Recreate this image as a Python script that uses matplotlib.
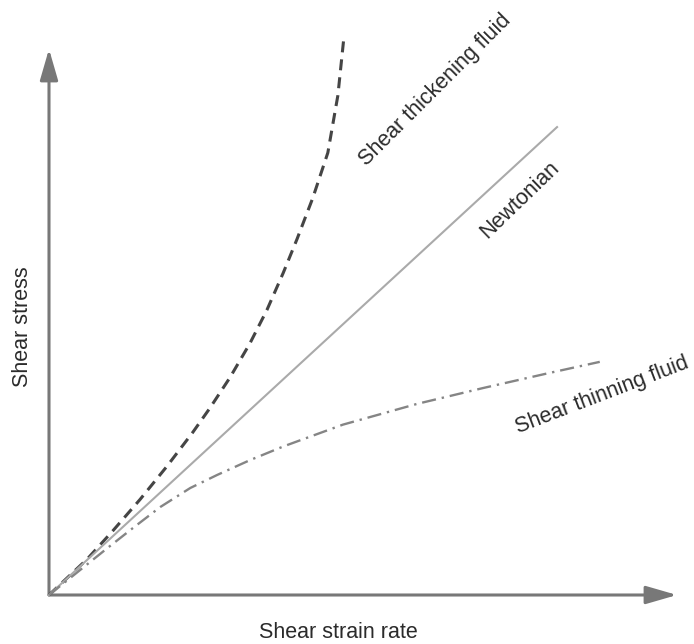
import numpy as np
import matplotlib.pyplot as plt
from matplotlib.patches import FancyArrowPatch

plt.rcParams['font.family'] = ['Liberation Sans', 'DejaVu Sans']

# values (origin = 0, axis arrow tips = 1)
thick_x = [0, 0.061, 0.102, 0.145, 0.188, 0.229, 0.256, 0.288, 0.320, 0.347,
           0.373, 0.395, 0.420, 0.444, 0.460, 0.470]
thick_y = [0, 0.066, 0.118, 0.175, 0.236, 0.298, 0.342, 0.398, 0.461, 0.522,
           0.590, 0.652, 0.727, 0.810, 0.915, 1.026]

newt_x = [0, 0.809]
newt_y = [0, 0.857]

thin_x = [0, 0.092, 0.134, 0.177, 0.225, 0.268, 0.320, 0.373, 0.468, 0.586,
          0.691, 0.798, 0.877]
thin_y = [0, 0.085, 0.123, 0.161, 0.196, 0.220, 0.247, 0.272, 0.312, 0.350,
          0.379, 0.407, 0.427]

W, H = 694, 644
fig = plt.figure(figsize=(W / 100, H / 100), dpi=100)
# origin at pixel (49, 595), arrow tips at x=677 / y=49
ax = fig.add_axes([49 / W, 1 - 595 / H, (677 - 49) / W, (595 - 49) / H])
ax.set_xlim(0, 1)
ax.set_ylim(0, 1)
ax.axis('off')

axis_col = '#787878'
for end in [(1, 0), (0, 1)]:
    arr = FancyArrowPatch((0, 0), end, arrowstyle='-|>,head_length=1.9,head_width=0.55',
                          mutation_scale=10, lw=2.2, color=axis_col,
                          shrinkA=0, shrinkB=0, clip_on=False)
    ax.add_patch(arr)

ax.plot(thick_x, thick_y, color='#454545', lw=2.2, dashes=(3.6, 2.3),
        clip_on=False, solid_capstyle='butt')
ax.plot(newt_x, newt_y, color='#aaaaaa', lw=1.5, clip_on=False)
ax.plot(thin_x, thin_y, color='#858585', lw=1.7, dashes=(6, 2.5, 1, 2.5),
        clip_on=False)

tcol = '#2b2b2b'
fs = 15.5
ax.text(0.615, 0.925, 'Shear thickening fluid', rotation=45, ha='center', va='center',
        rotation_mode='anchor', fontsize=fs, color=tcol)
ax.text(0.750, 0.723, 'Newtonian', rotation=44, ha='center', va='center',
        rotation_mode='anchor', fontsize=fs, color=tcol)
ax.text(0.880, 0.366, 'Shear thinning fluid', rotation=21, ha='center', va='center',
        rotation_mode='anchor', fontsize=fs, color=tcol)

fig.text(23 / W, 1 - 327 / H, 'Shear stress', rotation=90, ha='center', va='center',
         fontsize=fs, color=tcol)
fig.text(338 / W, 1 - 632 / H, 'Shear strain rate', ha='center', va='center',
         fontsize=fs, color=tcol)

fig.savefig('out.png', dpi=100)
